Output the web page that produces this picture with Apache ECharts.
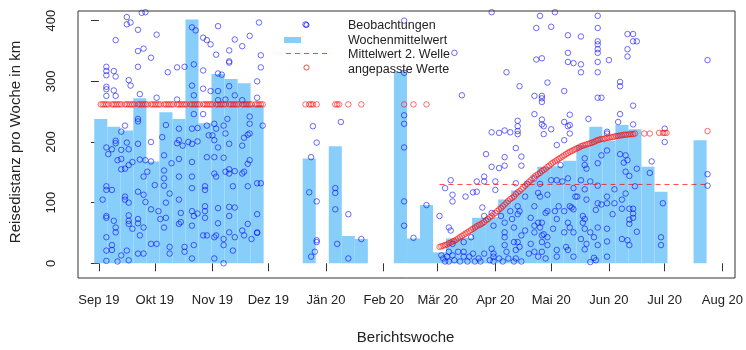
<!DOCTYPE html>
<html><head><meta charset="utf-8">
<script src="https://cdn.jsdelivr.net/npm/echarts@6/dist/echarts.min.js"></script>
<style>html,body{margin:0;padding:0;background:#fff}#c{width:746px;height:350px}</style>
</head><body><div id="c"></div>
<script>
// x values are day offsets from 2019-09-01
const monthTickDays = [0, 30, 61, 91, 122, 153, 182, 213, 243, 274, 304, 335];
const monthLabels = ['Sep 19','Okt 19','Nov 19','Dez 19','Jän 20','Feb 20','Mär 20','Apr 20','Mai 20','Jun 20','Jul 20','Aug 20'];
const yTickStep = 100;

// weekly means: week centre (Monday) day offsets and values
const barDays = [1,8,15,22,29,36,43,50,57,64,71,78,85, 113,127,134,141, 162,169,176, 183,190,197,204,211,218,225,232,239,246,253,260,267,274,281,288,295,302, 323];
const barMeans = [238,225,219,272,168,249,238,402,231,312,304,297,261, 173,193,45,40, 316,41,96, 18,41,42,75,76,105,120,136,159,160,169,195,225,202,228,221,159,118, 203];

// observations [day, km]
const obsAutumnHigh = [[15,406],[17,397],[15,394],[23,413],[25,414],[21,385],[31,377],[9,368],[21,350],[24,354],[28,339],[21,324],[37,315],[42,323],[46,324],[50,389],[52,384],[51,328],[56,372],[58,368],[60,361],[63,344],[64,391],[70,351],[73,369],[77,358],[81,375],[86,397],[87,343],[87,323],[70,333],[70,331],[56,318],[4,324],[4,317],[4,310],[8,317],[9,308],[16,302],[17,293],[4,291],[4,287],[8,285],[9,276],[4,276],[22,279],[31,273],[42,270],[51,277],[50,293],[56,288],[60,284],[64,284],[64,269],[70,292],[68,270],[73,277],[77,269],[85,273],[85,300],[64,313],[66,311],[36,228],[43,222],[50,222],[53,223],[56,246],[58,227],[62,230],[63,222],[67,227],[69,238],[81,242],[81,230],[88,227],[51,246],[21,238],[21,234],[14,227],[12,217],[34,208],[43,203],[48,200],[28,200],[59,211],[61,211],[68,214],[81,214],[80,212],[78,207],[62,203]];
const obsAutumnLow = [[9,202],[9,198],[15,199],[21,197],[42,198],[45,194],[50,197],[53,201],[64,191],[70,197],[77,194],[4,191],[7,188],[12,187],[16,188],[5,180],[10,170],[12,172],[18,167],[12,155],[14,156],[16,162],[22,171],[25,170],[28,168],[35,178],[35,153],[39,165],[43,172],[50,167],[58,175],[62,175],[67,174],[70,155],[70,148],[73,152],[77,148],[78,151],[81,170],[80,164],[85,132],[87,132],[26,151],[24,143],[30,129],[35,140],[35,128],[43,143],[50,143],[50,124],[57,127],[57,121],[62,148],[63,143],[68,151],[72,127],[80,127],[4,127],[4,121],[7,121],[2,105],[14,110],[14,105],[16,100],[21,118],[24,113],[25,101],[38,115],[43,105],[36,100],[32,86],[28,89],[36,75],[44,83],[50,86],[51,78],[53,82],[57,94],[57,86],[57,75],[64,91],[64,66],[70,93],[73,92],[70,78],[80,65],[85,81],[85,51],[4,78],[4,75],[8,70],[9,59],[9,51],[4,43],[7,30],[7,22],[4,21],[12,13],[15,21],[16,5],[10,3],[4,4],[16,79],[16,70],[16,65],[18,57],[21,73],[21,66],[24,59],[22,46],[21,16],[24,16],[28,32],[31,32],[38,27],[38,16],[46,27],[46,19],[50,8],[51,30],[43,65],[44,68],[50,62],[35,59],[33,73],[56,46],[58,46],[63,46],[62,8],[67,0],[67,30],[70,51],[73,43],[77,54],[78,46],[82,40],[85,50],[72,21],[62,43],[67,40]];
const obsWinter = [[111,394],[115,226],[117,199],[114,175],[113,117],[117,102],[117,38],[117,35],[116,19],[114,11],[130,233],[127,124],[127,116],[127,89],[128,32],[134,81],[134,8],[141,40],[164,400],[164,314],[164,244],[164,230],[164,191],[164,102],[164,62],[169,42],[176,96]];
const obsSpringHigh = [[211,414],[237,408],[245,414],[268,408],[235,388],[243,390],[268,388],[252,376],[259,374],[284,378],[287,378],[287,366],[289,366],[268,366],[268,361],[268,353],[268,347],[252,347],[284,353],[284,341],[235,336],[238,338],[252,332],[255,330],[259,328],[268,332],[274,335],[219,315],[259,315],[241,298],[268,315],[280,299],[280,292],[226,292],[250,284],[195,277],[234,276],[238,276],[238,272],[238,266],[268,273],[270,273],[287,260],[234,246],[225,235],[225,226],[225,218],[238,237],[238,229],[239,226],[239,213],[243,221],[250,233],[252,226],[253,245],[253,228],[253,214],[250,203],[246,195],[263,238],[279,233],[287,229],[211,216],[215,215],[218,219],[221,216],[225,213],[273,217],[273,214],[304,222],[304,200],[297,168],[208,180],[218,175],[224,190],[227,176],[327,335],[327,147],[327,128],[211,159],[215,157],[218,161],[227,161],[191,347],[234,140],[237,131],[243,137]];
const obsMarch = [[186,124],[189,137],[190,113],[190,102],[197,110],[201,117],[203,118],[203,135],[207,135],[207,143],[213,135],[213,121],[183,78],[188,59],[189,54],[190,32],[196,35],[200,43],[206,92],[207,78],[211,83],[212,62],[216,78],[218,67],[218,51],[218,43],[218,30],[219,19],[221,86],[222,73],[223,59],[223,35],[224,22],[184,13],[185,8],[186,3],[187,11],[188,19],[188,3],[190,13],[191,5],[193,19],[194,3],[196,11],[196,19],[198,3],[199,11],[201,16],[202,3],[204,8],[205,3],[207,16],[210,5],[211,24],[212,16],[212,11],[212,3],[215,8],[217,3],[220,8],[223,3]];
const obsApril = [[224,132],[229,110],[236,116],[237,110],[241,113],[246,137],[249,135],[252,140],[255,124],[256,110],[261,122],[259,137],[248,162],[225,94],[226,86],[225,81],[232,75],[234,94],[236,67],[240,83],[241,86],[245,86],[247,94],[250,86],[253,94],[254,92],[255,89],[260,78],[261,73],[246,73],[244,57],[234,62],[234,51],[237,59],[238,67],[238,46],[238,35],[239,48],[241,43],[241,30],[232,32],[229,54],[227,46],[225,35],[226,27],[224,8],[227,3],[231,16],[234,19],[236,11],[238,19],[240,8],[246,22],[246,11],[251,27],[252,22],[255,11],[252,67],[253,59],[255,51],[250,51],[260,67],[261,57],[259,40],[262,32]];
const obsMayJune = [[280,246],[296,149],[261,173],[261,162],[262,156],[268,165],[270,178],[273,186],[280,180],[283,178],[284,170],[282,166],[289,156],[283,151],[285,144],[264,135],[268,128],[257,110],[262,105],[268,99],[270,97],[273,110],[273,99],[277,99],[277,122],[281,105],[283,115],[281,90],[285,90],[287,90],[287,82],[287,75],[285,72],[285,65],[289,52],[276,81],[267,88],[264,51],[266,43],[268,59],[273,57],[268,30],[273,36],[281,40],[284,38],[285,30],[261,23],[266,9],[267,5],[264,2],[273,11],[302,43],[302,30],[303,99],[288,127]];

// fitted values
const fitFirstLevel = 262;
const fitFirstDays = [1,2,3,4,5,7,8,9,10,11,12,14,15,16,17,18,19,21,22,23,24,25,26,28,29,30,31,32,33,35,36,37,38,39,40,42,43,44,45,46,47,49,50,51,52,53,54,56,57,58,59,60,61,63,64,65,66,67,68,70,71,72,73,74,75,77,78,79,80,81,82,84,85,86,87,88,111,113,114,115,117,127,128,129,134,141,164,169,176];
const fitSecondWave = [[183,27],[184,28],[185,29],[186,30],[187,31],[188,33],[189,34],[190,36],[191,37],[192,39],[193,41],[194,43],[195,45],[196,47],[197,49],[198,51],[199,53],[200,55],[201,57],[202,59],[203,61],[204,63],[205,64],[206,66],[207,68],[208,71],[209,73],[210,76],[211,78],[212,81],[213,83],[214,86],[215,89],[216,91],[217,94],[218,97],[219,100],[220,103],[221,106],[222,108],[223,110],[224,114],[225,117],[226,119],[227,122],[228,125],[229,128],[230,131],[231,134],[232,137],[233,140],[234,143],[235,145],[236,147],[237,149],[238,152],[239,154],[240,156],[241,159],[242,161],[243,164],[244,166],[245,168],[246,170],[247,172],[248,174],[249,176],[250,178],[251,180],[252,182],[253,184],[254,185],[255,187],[256,188],[257,190],[258,191],[259,193],[260,194],[261,195],[262,196],[263,197],[264,198],[265,199],[266,200],[267,202],[268,203],[269,204],[270,205],[271,205],[272,206],[273,207],[274,207],[275,208],[276,208],[277,209],[278,210],[279,210],[280,211],[281,211],[282,212],[283,212],[284,212],[285,213],[286,213],[287,213],[288,214],[293,214],[296,214],[301,215],[303,215],[304,215],[305,215],[327,218]];

// mean of the second wave
const meanWave2 = 130;
const meanWave2Days = [183, 327];

const FONT = '"Liberation Sans", Arial, sans-serif';
const TXT = '#222';
const BLUE = 'rgba(0,0,255,0.72)';
const RED = 'rgba(255,0,0,0.72)';
const BARCOL = '#87CEFA';

const observations = [].concat(obsAutumnHigh, obsAutumnLow, obsWinter, obsSpringHigh, obsMarch, obsApril, obsMayJune);
const fitted = fitFirstDays.map(d => [d, fitFirstLevel]).concat(fitSecondWave);
const bars = barDays.map((d, i) => [d, barMeans[i]]);

// plot box (R style) and data region: y from 0..400 inside a box extended by 4 %
const BOX = {left: 78, top: 11, width: 657, height: 267};
const DATA_TOP = 20.7, DATA_BOTTOM = 268.3;

const chart = echarts.init(document.getElementById('c'), null, {renderer: 'canvas'});
chart.setOption({
  animation: false,
  backgroundColor: '#fff',
  grid: [
    {left: BOX.left, top: DATA_TOP, width: BOX.width, height: DATA_BOTTOM - DATA_TOP, show: false},
    {left: BOX.left, top: BOX.top, width: BOX.width, height: BOX.height, show: true, borderColor: '#333', borderWidth: 1, backgroundColor: 'transparent', z: 5}
  ],
  xAxis: [{
    gridIndex: 0, type: 'value', min: -10.7, max: 340.3,
    offset: BOX.top + BOX.height - DATA_BOTTOM,
    axisLine: {show: false},
    splitLine: {show: false},
    axisTick: {show: true, length: 8, customValues: monthTickDays, lineStyle: {color: '#333'}},
    axisLabel: {customValues: monthTickDays, formatter: v => monthLabels[monthTickDays.indexOf(v)], margin: 21, fontSize: 13, color: TXT, fontFamily: FONT},
    name: 'Berichtswoche', nameLocation: 'middle', nameGap: 57,
    nameTextStyle: {fontSize: 15, color: TXT, fontFamily: FONT}
  }, {
    gridIndex: 1, type: 'value', min: 0, max: 1, show: false
  }],
  yAxis: [{
    gridIndex: 0, type: 'value', min: 0, max: 400, interval: yTickStep,
    axisLine: {show: false},
    splitLine: {show: false},
    axisTick: {show: true, length: 8, lineStyle: {color: '#333'}},
    axisLabel: {rotate: 90, margin: 21, fontSize: 13, color: TXT, fontFamily: FONT},
    name: 'Reisedistanz pro Woche in km', nameLocation: 'middle', nameGap: 56, nameRotate: 90,
    nameTextStyle: {fontSize: 15, color: TXT, fontFamily: FONT}
  }, {
    gridIndex: 1, type: 'value', min: 0, max: 1, show: false
  }],
  series: [
    {
      type: 'custom', name: 'Wochenmittelwert', data: bars, z: 1, clip: false,
      renderItem: function (params, api) {
        const c = api.value(0), v = api.value(1);
        const p1 = api.coord([c - 3.5, v]);
        const p2 = api.coord([c + 3.5, 0]);
        return {type: 'rect', shape: {x: p1[0], y: p1[1], width: p2[0] - p1[0], height: p2[1] - p1[1]}, style: {fill: BARCOL}};
      }
    },
    {
      type: 'scatter', name: 'Beobachtungen', data: observations, z: 2, clip: false,
      symbol: 'circle', symbolSize: 5.5,
      itemStyle: {color: 'transparent', borderColor: BLUE, borderWidth: 1}
    },
    {
      type: 'line', name: 'Mittelwert 2. Welle', z: 3,
      data: meanWave2Days.map(d => [d, meanWave2]),
      symbol: 'none', lineStyle: {color: RED, width: 1, type: [5, 4]}
    },
    {
      type: 'scatter', name: 'angepasste Werte', data: fitted, z: 4, clip: false,
      symbol: 'circle', symbolSize: 5.5,
      itemStyle: {color: 'transparent', borderColor: RED, borderWidth: 1}
    }
  ],
  graphic: [
    {type: 'circle', z: 10, shape: {cx: 306.5, cy: 25, r: 2.6}, style: {fill: 'none', stroke: BLUE, lineWidth: 1}},
    {type: 'text', z: 10, x: 348, y: 26, style: {text: 'Beobachtungen', font: '12.5px ' + FONT, fill: TXT, verticalAlign: 'middle'}},
    {type: 'rect', z: 10, shape: {x: 284, y: 37, width: 17, height: 6}, style: {fill: BARCOL}},
    {type: 'text', z: 10, x: 348, y: 40.5, style: {text: 'Wochenmittelwert', font: '12.5px ' + FONT, fill: TXT, verticalAlign: 'middle'}},
    {type: 'line', z: 10, shape: {x1: 286, y1: 53.5, x2: 328, y2: 53.5}, style: {stroke: RED, lineWidth: 1, lineDash: [5, 4]}},
    {type: 'text', z: 10, x: 348, y: 55, style: {text: 'Mittelwert 2. Welle', font: '12.5px ' + FONT, fill: TXT, verticalAlign: 'middle'}},
    {type: 'circle', z: 10, shape: {cx: 306.5, cy: 67.5, r: 2.6}, style: {fill: 'none', stroke: RED, lineWidth: 1}},
    {type: 'text', z: 10, x: 348, y: 69.5, style: {text: 'angepasste Werte', font: '12.5px ' + FONT, fill: TXT, verticalAlign: 'middle'}}
  ]
});
</script>
</body></html>
